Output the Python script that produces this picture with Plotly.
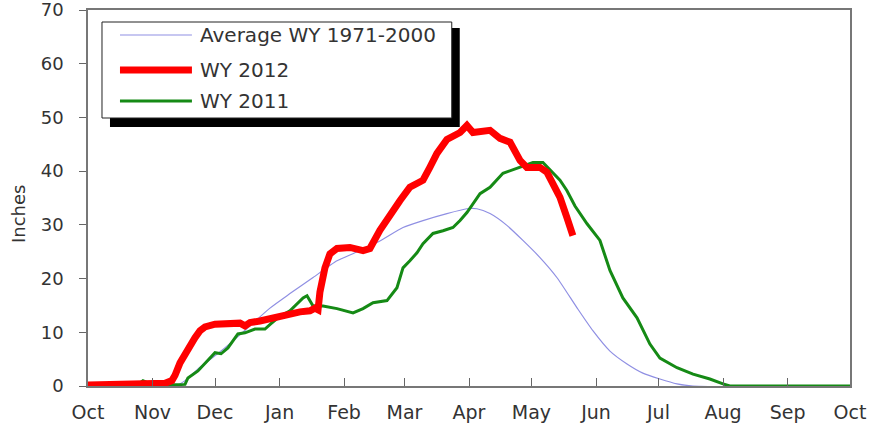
import plotly.graph_objects as go

# ---- data (day of water year from Oct 1, inches of SWE) ----
months = ["Oct", "Nov", "Dec", "Jan", "Feb", "Mar", "Apr", "May", "Jun", "Jul", "Aug", "Sep", "Oct"]
month_days = [0, 31, 61, 92, 123, 152, 183, 213, 244, 274, 305, 336, 366]

avg_day = [0, 42, 46.6, 53.8, 63.9, 73.5, 87.4, 97, 108.1, 119.6, 128.2, 140.2, 151.3, 160.9,
           172.4, 182, 186.8, 193.1, 201.2, 208.9, 217.1, 225.2, 234.8, 242.5, 250.7, 258.9,
           266.5, 274.7, 282.9, 290.6, 366]
avg_val = [0, 0, 1.0, 3.5, 6.5, 9.7, 14.5, 17.2, 20.2, 23.3, 24.8, 27.0, 29.5, 30.8,
           32.1, 33.0, 33.0, 32.1, 29.9, 27.1, 23.9, 20.2, 14.6, 10.3, 6.5, 4.1,
           2.4, 1.3, 0.4, 0.0, 0]

wy2012_day = [0, 29.8, 37, 40.3, 41.8, 44.2, 46.6, 49, 51.4, 53.8, 56.2, 61, 68.2, 73, 75.4,
              77.8, 82.6, 87.4, 92.2, 97, 101.8, 106.6, 109, 110.5, 111.4, 113.8, 116.2,
              119.6, 125.8, 132.1, 135.4, 140.2, 145, 149.8, 154.6, 160.9, 164.2, 167.6,
              172.4, 178.7, 182, 184.9, 193.1, 197.9, 202.7, 207.5, 210.8, 217.1, 220.4,
              223.3, 226.7, 230, 232.9]
wy2012_val = [0.2, 0.2, 0.5, 1.0, 2.0, 4.3, 6.0, 7.5, 9.0, 10.3, 11.0, 11.5, 11.7, 11.7, 11.2,
              11.8, 12.1, 12.5, 13.0, 13.6, 13.8, 14.0, 14.5, 14.2, 17.5, 22.0, 24.6,
              25.6, 25.8, 25.2, 25.6, 29.0, 32.0, 34.5, 37.0, 38.3, 40.7, 43.3,
              45.9, 47.2, 48.5, 47.2, 47.6, 46.1, 45.4, 42.0, 40.7, 40.7, 39.8,
              37.7, 35.1, 31.4, 28.0]

wy2011_day = [0, 20.2, 24, 26.4, 28.8, 32.2, 37, 46.6, 48, 52.8, 57.6, 61, 63.9, 67.2, 72,
              75.4, 80.2, 85, 87.9, 91.2, 97, 103.3, 105.2, 108.1, 112.9, 119.6, 127.3,
              132.1, 136.9, 143.6, 148.4, 151.3, 154.6, 158, 160.9, 165.7, 170.5, 175.3,
              178.7, 182, 188.3, 193.1, 199.3, 206, 213.7, 218.5, 223.3, 226.7, 230,
              233.9, 239.7, 245.9, 250.7, 256.9, 263.7, 269.9, 274.7, 282.9, 290.6,
              298.7, 305, 308.3, 366]
wy2011_val = [0, 0.1, 0.3, 1.0, 0.6, 0.4, 0.2, 0.3, 1.5, 2.8, 4.7, 6.2, 6.0, 7.1, 9.7,
              9.9, 10.6, 10.6, 11.6, 12.7, 14.0, 16.4, 16.8, 14.9, 14.9, 14.4, 13.6,
              14.4, 15.5, 15.9, 18.3, 22.0, 23.3, 24.8, 26.5, 28.4, 28.9, 29.5,
              30.8, 32.3, 35.8, 37.0, 39.6, 40.5, 41.6, 41.6, 39.6, 38.3, 36.4,
              33.5, 30.2, 27.1, 21.5, 16.4, 12.7, 7.8, 5.2, 3.4, 2.2,
              1.3, 0.4, 0.0, 0]

series_names = ["Average WY 1971-2000", "WY 2012", "WY 2011"]
series_colors = ["#8f8fe3", "#ff0000", "#158a15"]
series_widths = [1.2, 7, 3]

FONT = "DejaVu Sans"
W, H = 869, 423
L, R, T, B = 88, 18.5, 10, 37
PW, PH = W - L - R, H - T - B


def px(x):
    return (x - L) / PW


def py(y):
    return (H - B - y) / PH


fig = go.Figure()
data = [(avg_day, avg_val), (wy2012_day, wy2012_val), (wy2011_day, wy2011_val)]
order = [0, 2, 1]
for i in order:
    xs, ys = data[i]
    fig.add_trace(go.Scatter(
        x=xs, y=ys, mode="lines", name=series_names[i],
        line=dict(color=series_colors[i], width=series_widths[i],
                  shape="spline" if i == 0 else "linear", smoothing=0.6),
        showlegend=False, hoverinfo="skip"))

shapes = []
# legend shadow + box
shapes.append(dict(type="rect", xref="paper", yref="paper",
                   x0=px(110), x1=px(460), y0=py(127), y1=py(28),
                   fillcolor="black", line=dict(width=0), layer="above"))
shapes.append(dict(type="rect", xref="paper", yref="paper",
                   x0=px(102), x1=px(452), y0=py(118), y1=py(22),
                   fillcolor="white", line=dict(color="#222", width=1), layer="above"))
annotations = []
rows_y = [35, 70, 101]
for i in range(3):
    shapes.append(dict(type="line", xref="paper", yref="paper",
                       x0=px(120), x1=px(192), y0=py(rows_y[i]), y1=py(rows_y[i]),
                       line=dict(color=series_colors[i], width=series_widths[i]), layer="above"))
    annotations.append(dict(xref="paper", yref="paper", x=px(198), y=py(rows_y[i]),
                            xanchor="left", yanchor="middle", showarrow=False,
                            text=series_names[i], font=dict(family=FONT, size=20, color="#333")))

annotations.append(dict(xref="paper", yref="paper", x=px(18), y=py(214),
                        xanchor="center", yanchor="middle", showarrow=False, textangle=-90,
                        text="Inches", font=dict(family=FONT, size=18, color="#333")))

fig.update_layout(
    width=W, height=H,
    margin=dict(l=L, r=R, t=T, b=B, pad=0, autoexpand=False),
    paper_bgcolor="white", plot_bgcolor="white",
    shapes=shapes, annotations=annotations,
    showlegend=False,
    xaxis=dict(range=[0, 366], tickvals=month_days, ticktext=months, automargin=False,
               ticks="inside", ticklen=8, tickcolor="#666", tickwidth=1,
               showline=True, linecolor="#777", linewidth=1.5, mirror=True,
               showgrid=False, zeroline=False, ticklabelstandoff=8,
               ticklabeloverflow="allow",
               tickfont=dict(family=FONT, size=19, color="#333")),
    yaxis=dict(range=[0, 70], dtick=10, tick0=0, automargin=False,
               ticks="outside", ticklen=7, tickcolor="#666", tickwidth=1,
               showline=True, linecolor="#777", linewidth=1.5, mirror=True,
               showgrid=False, zeroline=False, ticklabelstandoff=12,
               ticklabeloverflow="allow",
               tickfont=dict(family=FONT, size=18, color="#333")),
)

fig.write_html("out.html", config={"displayModeBar": False},
               post_script="document.body.style.margin='0';document.body.style.padding='0';document.body.style.overflow='hidden';")
